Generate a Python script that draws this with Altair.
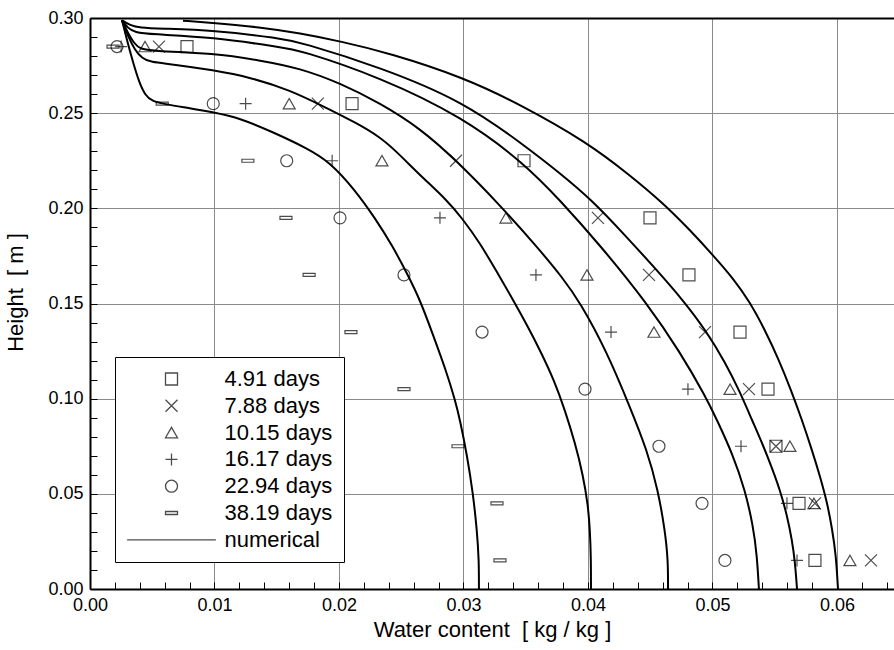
import altair as alt
import pandas as pd

# ---- measured profiles: water content [kg/kg] at each sampling height [m]
heights = [0.285, 0.255, 0.225, 0.195, 0.165, 0.135, 0.105, 0.075, 0.045, 0.015]
series_names = ["4.91 days", "7.88 days", "10.15 days", "16.17 days", "22.94 days", "38.19 days"]
wc_4_91 = [0.00779, 0.02105, 0.03486, 0.04498, 0.04811, 0.05221, 0.05446, 0.05510, 0.05695, 0.05823]
wc_7_88 = [0.00554, 0.01830, 0.02940, 0.04080, 0.04490, 0.04940, 0.05293, 0.05510, 0.05823, 0.06273]
wc_10_15 = [0.00442, 0.01600, 0.02345, 0.03341, 0.03992, 0.04530, 0.05141, 0.05622, 0.05815, 0.06104]
wc_16_17 = [0.00250, 0.01250, 0.01945, 0.02811, 0.03582, 0.04185, 0.04803, 0.05229, 0.05598, 0.05679]
wc_22_94 = [0.00217, 0.00990, 0.01580, 0.02008, 0.02522, 0.03149, 0.03976, 0.04570, 0.04916, 0.05100]
wc_38_19 = [0.00185, 0.00580, 0.01268, 0.01574, 0.01760, 0.02096, 0.02522, 0.02956, 0.03269, 0.03293]

# ---- numerical profiles (x = water content, y = height)
num_a_x = [0.00257, 0.00297, 0.00345, 0.00394, 0.00442, 0.00498, 0.00602, 0.00803, 0.00988, 0.01205,
           0.01470, 0.01743, 0.01928, 0.02129, 0.02289, 0.02426, 0.02554, 0.02651, 0.02747, 0.02859,
           0.02932, 0.02972, 0.03028, 0.03076, 0.03108, 0.03124, 0.03124]
num_a_y = [0.2988, 0.2883, 0.2768, 0.2663, 0.2595, 0.2563, 0.2547, 0.2526, 0.2505, 0.2474,
           0.2400, 0.2316, 0.2243, 0.2096, 0.1949, 0.1807, 0.1649, 0.1518, 0.1350, 0.1150,
           0.0993, 0.0888, 0.0704, 0.0504, 0.0310, 0.0152, 0.0000]
num_b_x = [0.00257, 0.00305, 0.00361, 0.00418, 0.00482, 0.00667, 0.00988, 0.01285, 0.01606, 0.01871,
           0.02145, 0.02329, 0.02450, 0.02651, 0.02867, 0.02988, 0.03133, 0.03269, 0.03390, 0.03510,
           0.03622, 0.03727, 0.03815, 0.03896, 0.03960, 0.04000, 0.04016, 0.04024, 0.04024]
num_b_y = [0.2988, 0.2904, 0.2831, 0.2789, 0.2768, 0.2757, 0.2726, 0.2689, 0.2621, 0.2537,
           0.2447, 0.2374, 0.2306, 0.2174, 0.2043, 0.1949, 0.1817, 0.1665, 0.1528, 0.1387,
           0.1245, 0.1098, 0.0940, 0.0767, 0.0599, 0.0441, 0.0310, 0.0152, 0.0000]
num_c_x = [0.00257, 0.00305, 0.00353, 0.00402, 0.00522, 0.00988, 0.01365, 0.01687, 0.02008, 0.02329,
           0.02651, 0.02940, 0.03293, 0.03614, 0.03791, 0.03936, 0.04153, 0.04337, 0.04474, 0.04562,
           0.04618, 0.04643, 0.04643]
num_c_y = [0.2988, 0.2920, 0.2868, 0.2836, 0.2826, 0.2815, 0.2778, 0.2736, 0.2658, 0.2553,
           0.2421, 0.2253, 0.2017, 0.1780, 0.1639, 0.1507, 0.1245, 0.0956, 0.0730, 0.0520,
           0.0310, 0.0152, 0.0000]
num_d_x = [0.00257, 0.00305, 0.00361, 0.00482, 0.00988, 0.01526, 0.01687, 0.02329, 0.02996, 0.03486,
           0.03775, 0.04096, 0.04474, 0.04739, 0.04948, 0.05036, 0.05165, 0.05261, 0.05325, 0.05357,
           0.05373]
num_d_y = [0.2988, 0.2946, 0.2925, 0.2915, 0.2899, 0.2847, 0.2831, 0.2689, 0.2479, 0.2237,
           0.2043, 0.1807, 0.1502, 0.1245, 0.1008, 0.0888, 0.0704, 0.0520, 0.0336, 0.0179,
           0.0000]
num_e_x = [0.00257, 0.00321, 0.00402, 0.00562, 0.00988, 0.01526, 0.01687, 0.02329, 0.02996, 0.03486,
           0.03775, 0.04032, 0.04297, 0.04538, 0.04763, 0.04956, 0.05100, 0.05221, 0.05317, 0.05406,
           0.05478, 0.05542, 0.05598, 0.05639, 0.05663, 0.05679]
num_e_y = [0.2988, 0.2962, 0.2949, 0.2944, 0.2936, 0.2894, 0.2873, 0.2742, 0.2563, 0.2332,
           0.2185, 0.2043, 0.1859, 0.1686, 0.1518, 0.1350, 0.1192, 0.1035, 0.0888, 0.0756,
           0.0635, 0.0520, 0.0389, 0.0257, 0.0142, 0.0000]
num_f_x = [0.00747, 0.00988, 0.01365, 0.01687, 0.02008, 0.02410, 0.02996, 0.03454, 0.03992, 0.04337,
           0.04594, 0.04819, 0.05004, 0.05165, 0.05301, 0.05422, 0.05534, 0.05631, 0.05719, 0.05799,
           0.05863, 0.05920, 0.05960, 0.05992, 0.06008]
num_f_y = [0.2986, 0.2974, 0.2952, 0.2920, 0.2878, 0.2815, 0.2689, 0.2547, 0.2348, 0.2174,
           0.2033, 0.1886, 0.1754, 0.1633, 0.1507, 0.1360, 0.1203, 0.1045, 0.0888, 0.0730,
           0.0594, 0.0457, 0.0320, 0.0179, 0.0000]

# ---- axis ticks
x_label_values = [0.00, 0.01, 0.02, 0.03, 0.04, 0.05, 0.06]
x_minor_values = [0.000, 0.002, 0.004, 0.006, 0.008, 0.010, 0.012, 0.014, 0.016, 0.018,
                  0.020, 0.022, 0.024, 0.026, 0.028, 0.030, 0.032, 0.034, 0.036, 0.038,
                  0.040, 0.042, 0.044, 0.046, 0.048, 0.050, 0.052, 0.054, 0.056, 0.058,
                  0.060, 0.062, 0.064]
y_label_values = [0.00, 0.05, 0.10, 0.15, 0.20, 0.25, 0.30]
y_minor_values = [0.00, 0.01, 0.02, 0.03, 0.04, 0.05, 0.06, 0.07, 0.08, 0.09, 0.10,
                  0.11, 0.12, 0.13, 0.14, 0.15, 0.16, 0.17, 0.18, 0.19, 0.20,
                  0.21, 0.22, 0.23, 0.24, 0.25, 0.26, 0.27, 0.28, 0.29, 0.30]

# ---- tables
obs_rows = []
for name, values in zip(series_names, [wc_4_91, wc_7_88, wc_10_15, wc_16_17, wc_22_94, wc_38_19]):
    for h, w in zip(heights, values):
        obs_rows.append({"series": name, "wc": w, "h": h})
obs = pd.DataFrame(obs_rows)

curve_rows = []
for cid, (cx, cy) in enumerate([(num_a_x, num_a_y), (num_b_x, num_b_y), (num_c_x, num_c_y),
                                (num_d_x, num_d_y), (num_e_x, num_e_y), (num_f_x, num_f_y)]):
    for i, (x, y) in enumerate(zip(cx, cy)):
        curve_rows.append({"curve": cid, "i": i, "wc": x, "h": y})
curves = pd.DataFrame(curve_rows)

FONT = "Liberation Sans"
X_MAX = 0.06458
x_scale = alt.Scale(domain=[0, X_MAX], nice=False, zero=False)
y_scale = alt.Scale(domain=[0, 0.30], nice=False, zero=False)

legend_domain = series_names + ["numerical"]
legend_shapes = [
    "square",
    "M-1,-1L1,1M1,-1L-1,1",
    "triangle-up",
    "M-1,0H1M0,-1V1",
    "circle",
    "M-1,-0.25H1V0.25H-1Z",
    "M-7.4,0H7.4",
]

# numerical curves + main axes (labels, grid, frame)
lines = alt.Chart(curves).mark_line(color="black", strokeWidth=2, interpolate="basis").encode(
    x=alt.X("wc:Q", scale=x_scale, axis=alt.Axis(
        orient="bottom", values=x_label_values, format=".2f", ticks=False,
        grid=True, gridColor="#8a8a8a", gridWidth=1, domain=True, domainColor="black",
        domainWidth=2, labelPadding=7, labelFlush=False, labelOverlap=False,
        title="Water content\u00a0 [ kg / kg ]", titleY=30)),
    y=alt.Y("h:Q", scale=y_scale, axis=alt.Axis(
        orient="left", values=y_label_values, format=".2f", ticks=False,
        grid=True, gridColor="#8a8a8a", gridWidth=1, domain=True, domainColor="black",
        domainWidth=2, labelPadding=7, labelFlush=False, labelOverlap=False,
        title="Height\u00a0 [ m ]", titleX=-63, titleY=274)),
    detail="curve:N",
    order="i:Q",
)

# measured points + inward minor ticks
points = alt.Chart(obs).mark_point(filled=False, size=144, color="black", strokeWidth=1.2).encode(
    x=alt.X("wc:Q", scale=x_scale, axis=alt.Axis(
        orient="bottom", offset=-7, values=x_minor_values, tickSize=7, tickColor="black",
        tickWidth=1, labels=False, domain=False, grid=False, title=None)),
    y=alt.Y("h:Q", scale=y_scale, axis=alt.Axis(
        orient="left", offset=-7, values=y_minor_values, tickSize=7, tickColor="black",
        tickWidth=1, labels=False, domain=False, grid=False, title=None)),
    shape=alt.Shape("series:N", scale=alt.Scale(domain=legend_domain, range=legend_shapes),
                    legend=alt.Legend(
                        title=None, orient="none", legendX=25, legendY=339,
                        strokeColor="black", fillColor="white", padding=11,
                        symbolSize=144, symbolStrokeWidth=1.3, symbolStrokeColor="black",
                        symbolFillColor="transparent", symbolOffset=34.5, labelOffset=42,
                        labelFont=FONT, labelFontSize=22, labelColor="black",
                        rowPadding=4.8, labelLimit=300)),
)

# top frame line
top_frame = alt.Chart(obs).mark_point(opacity=0).encode(
    x=alt.X("wc:Q", scale=x_scale, axis=alt.Axis(
        orient="top", labels=False, ticks=False, grid=False, domain=True,
        domainColor="black", domainWidth=2, title=None)),
    y=alt.Y("h:Q", scale=y_scale, axis=None),
)

chart = alt.layer(lines, points, top_frame).resolve_axis(
    x="independent", y="independent"
).properties(
    width=804, height=571,
    padding={"left": 90, "top": 18, "right": 0, "bottom": 61},
    autosize=alt.AutoSizeParams(type="none"),
).configure_view(stroke=None).configure_axis(
    labelFont=FONT, labelFontSize=18, labelColor="black",
    titleFont=FONT, titleFontSize=22, titleFontWeight="normal", titleColor="black",
)

chart.save("out.html", embed_options={"renderer": "svg", "actions": False})
